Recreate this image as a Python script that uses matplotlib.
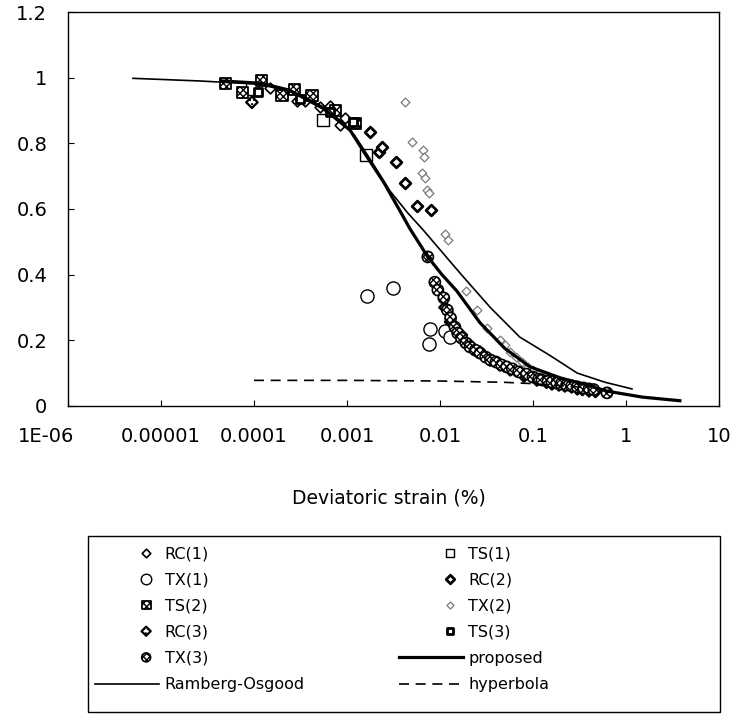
import numpy as np
import matplotlib
matplotlib.use("Agg")
import matplotlib.pyplot as plt
import matplotlib.transforms as mtransforms
from matplotlib.ticker import FixedLocator, FixedFormatter, NullLocator
from matplotlib.legend_handler import HandlerPathCollection
from matplotlib.collections import PathCollection
from matplotlib.patches import Rectangle

plt.rcParams['font.family'] = ['DejaVu Sans']

# ---------------- data ----------------
x_ticks = [1e-6, 1e-5, 1e-4, 1e-3, 1e-2, 1e-1, 1, 10]
x_tick_labels = ["1E-06", "0.00001", "0.0001", "0.001", "0.01", "0.1", "1", "10"]
y_ticks = [0, 0.2, 0.4, 0.6, 0.8, 1.0, 1.2]
y_tick_labels = ["0", "0.2", "0.4", "0.6", "0.8", "1", "1.2"]

rc1_x = [1.5e-4, 2.9e-4, 3.5e-4, 5.1e-4, 6.6e-4, 8.4e-4, 9.5e-4]
rc1_y = [0.97, 0.93, 0.93, 0.91, 0.915, 0.855, 0.877]

ts1_x = [9.5e-5, 5.5e-4, 1.6e-3]
ts1_y = [0.965, 0.87, 0.764]

tx1_x = [1.64e-3, 3.1e-3, 7.8e-3, 7.6e-3, 0.0113, 0.0128]
tx1_y = [0.335, 0.36, 0.234, 0.19, 0.228, 0.21]

rc2_x = [1.77e-3, 2.2e-3, 2.4e-3, 3.4e-3, 4.2e-3, 5.7e-3, 8.1e-3]
rc2_y = [0.834, 0.773, 0.788, 0.743, 0.679, 0.609, 0.597]

ts2_x = [4.9e-5, 7.6e-5, 1.2e-4, 2.0e-4, 2.7e-4, 4.2e-4, 7.6e-4, 1.22e-3]
ts2_y = [0.983, 0.956, 0.992, 0.947, 0.965, 0.947, 0.90, 0.86]

tx2_x = [4.2e-3, 5.0e-3, 6.6e-3, 6.7e-3, 6.4e-3, 6.9e-3, 7.2e-3, 7.6e-3, 0.0113, 0.0122,
         0.019, 0.025, 0.032, 0.044, 0.05, 0.057, 0.066, 0.076, 0.088, 0.1, 0.115, 0.13, 0.15]
tx2_y = [0.925, 0.805, 0.78, 0.758, 0.71, 0.695, 0.658, 0.648, 0.525, 0.505,
         0.35, 0.292, 0.237, 0.2, 0.186, 0.164, 0.149, 0.134, 0.119, 0.11, 0.10, 0.092, 0.085]

rc3_x = [9.5e-5, 0.0113, 0.013, 0.017, 0.021, 0.027, 0.0345, 0.044, 0.057, 0.08,
         0.11, 0.14, 0.16, 0.19, 0.22, 0.26, 0.3, 0.34, 0.4, 0.47]
rc3_y = [0.925, 0.30, 0.256, 0.216, 0.186, 0.164, 0.14, 0.125, 0.11, 0.091,
         0.079, 0.072, 0.067, 0.064, 0.061, 0.058, 0.052, 0.05, 0.046, 0.044]

ts3_x = [1.1e-4, 3.1e-4, 6.6e-4, 1.15e-3]
ts3_y = [0.956, 0.934, 0.895, 0.865]

tx3_x = [7.4e-3, 8.8e-3, 0.0095, 0.011, 0.012, 0.013, 0.0145, 0.0155, 0.017, 0.019,
         0.021, 0.024, 0.027, 0.031, 0.035, 0.04, 0.046, 0.052, 0.06, 0.07,
         0.085, 0.1, 0.115, 0.125, 0.145, 0.16, 0.18, 0.2, 0.23, 0.26, 0.3,
         0.35, 0.4, 0.45, 0.625]
tx3_y = [0.454, 0.377, 0.353, 0.329, 0.292, 0.268, 0.24, 0.222, 0.207, 0.192,
         0.18, 0.17, 0.161, 0.149, 0.14, 0.134, 0.125, 0.119, 0.113, 0.104,
         0.097, 0.088, 0.082, 0.079, 0.075, 0.073, 0.07, 0.067, 0.064, 0.061, 0.058,
         0.055, 0.052, 0.05, 0.04]

proposed_x = [4.5e-5, 1.2e-4, 2.4e-4, 5.5e-4, 1.08e-3, 1.6e-3, 2.5e-3, 3.7e-3, 4.75e-3,
              7.4e-3, 0.0105, 0.0152, 0.027, 0.05, 0.093, 0.2, 0.32, 0.63, 1.5, 3.8]
proposed_y = [0.99, 0.983, 0.962, 0.907, 0.84, 0.764, 0.68, 0.595, 0.54,
              0.454, 0.40, 0.35, 0.253, 0.175, 0.119, 0.085, 0.07, 0.045, 0.027, 0.016]

ro_x = [5e-6, 2.6e-5, 1.15e-4, 3.1e-4, 6.5e-4, 1.2e-3, 1.7e-3, 2.9e-3, 4.5e-3, 6.6e-3,
        0.0164, 0.0345, 0.072, 0.15, 0.30, 0.6, 1.16]
ro_y = [0.998, 0.99, 0.98, 0.95, 0.90, 0.825, 0.76, 0.655, 0.588, 0.536,
        0.405, 0.301, 0.21, 0.155, 0.10, 0.072, 0.052]

hyp_x = [1e-4, 1e-3, 0.01, 0.05, 0.1, 0.3]
hyp_y = [0.078, 0.078, 0.076, 0.072, 0.068, 0.058]

# ---------------- figure ----------------
fig = plt.figure(figsize=(7.39, 7.15), dpi=100)
ax = fig.add_axes([0.0920, 0.4322, 0.8809, 0.5510])
ax.set_xscale('log')
ax.set_xlim(1e-6, 10)
ax.set_ylim(0, 1.2)

styles = {
    'RC(1)': dict(marker='D', s=30, facecolors='white', edgecolors='black', linewidths=1.2),
    'TS(1)': dict(marker='s', s=64, facecolors='white', edgecolors='black', linewidths=1.0),
    'TX(1)': dict(marker='o', s=90, facecolors='white', edgecolors='black', linewidths=1.0),
    'RC(2)': dict(marker='D', s=30, facecolors='white', edgecolors='black', linewidths=2.0),
    'TS(2)': dict(marker='s', s=64, facecolors='white', edgecolors='black', linewidths=1.3, hatch='xxxxx'),
    'TX(2)': dict(marker='D', s=20, facecolors='white', edgecolors='#7a7a7a', linewidths=0.9),
    'RC(3)': dict(marker='D', s=34, facecolors='white', edgecolors='black', linewidths=1.6, hatch='....'),
    'TS(3)': dict(marker='s', s=36, facecolors='white', edgecolors='black', linewidths=2.0),
    'TX(3)': dict(marker='o', s=64, facecolors='white', edgecolors='black', linewidths=1.2, hatch='xxxxx'),
}
series = {
    'RC(1)': (rc1_x, rc1_y), 'TS(1)': (ts1_x, ts1_y), 'TX(1)': (tx1_x, tx1_y),
    'RC(2)': (rc2_x, rc2_y), 'TS(2)': (ts2_x, ts2_y), 'TX(2)': (tx2_x, tx2_y),
    'RC(3)': (rc3_x, rc3_y), 'TS(3)': (ts3_x, ts3_y), 'TX(3)': (tx3_x, tx3_y),
}
handles = {}
for name in ['RC(1)', 'TS(1)', 'TX(1)', 'RC(2)', 'TS(2)', 'TX(2)', 'RC(3)', 'TS(3)', 'TX(3)']:
    xs, ys = series[name]
    handles[name] = ax.scatter(xs, ys, zorder=3, label=name, **styles[name])

handles['proposed'], = ax.plot(proposed_x, proposed_y, color='black', lw=2.3, zorder=4,
                               solid_joinstyle='round')
handles['Ramberg-Osgood'], = ax.plot(ro_x, ro_y, color='black', lw=1.2, zorder=4)
handles['hyperbola'], = ax.plot(hyp_x, hyp_y, color='black', lw=1.2, ls=(0, (6, 4)), zorder=4)

ax.xaxis.set_major_locator(FixedLocator(x_ticks))
ax.xaxis.set_major_formatter(FixedFormatter(x_tick_labels))
ax.xaxis.set_minor_locator(NullLocator())
ax.yaxis.set_major_locator(FixedLocator(y_ticks))
ax.yaxis.set_major_formatter(FixedFormatter(y_tick_labels))
ax.tick_params(direction='in', length=4, width=0.8, labelsize=14, pad=15,
               top=False, right=False)
for sp in ax.spines.values():
    sp.set_linewidth(1.0)

# first x label sits a bit left of its tick in the original
fig.canvas.draw()
lbl0 = ax.get_xticklabels()[0]
lbl0.set_transform(lbl0.get_transform() +
                   mtransforms.ScaledTranslation(-0.22, 0, fig.dpi_scale_trans))

ax.set_xlabel("Deviatoric strain (%)", fontsize=13.5, va='center')
ax.xaxis.set_label_coords(0.493, -0.234)


class RightMarker(HandlerPathCollection):
    def get_xdata(self, legend, xdescent, ydescent, width, height, fontsize):
        xd = np.array([-xdescent, -xdescent + width])
        xm = np.array([-xdescent + 0.8 * width])
        return xd, xm


order = ['RC(1)', 'TX(1)', 'TS(2)', 'RC(3)', 'TX(3)', 'Ramberg-Osgood',
         'TS(1)', 'RC(2)', 'TX(2)', 'TS(3)', 'proposed', 'hyperbola']
fig.legend([handles[k] for k in order], order, ncol=2, loc='upper left',
           bbox_to_anchor=(0.1286, 0.236), bbox_transform=fig.transFigure,
           frameon=False, fontsize=11.5, handlelength=4, handletextpad=0.35,
           columnspacing=5.9, labelspacing=0.70, borderpad=0, borderaxespad=0,
           scatterpoints=1, scatteryoffsets=[0.5], markerscale=0.8,
           handler_map={PathCollection: RightMarker()})

fig.add_artist(Rectangle((0.119, 0.0042), 0.855, 0.246, transform=fig.transFigure,
                         fill=False, ec='black', lw=1.0))

fig.savefig("out.png", dpi=100)
